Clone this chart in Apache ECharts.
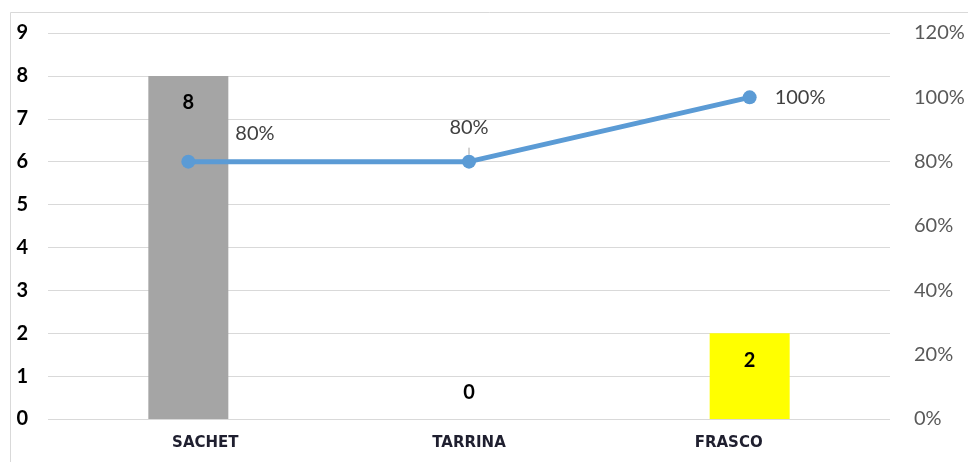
<!DOCTYPE html>
<html>
<head>
<meta charset="utf-8">
<script src="https://cdn.jsdelivr.net/npm/echarts@6/dist/echarts.min.js"></script>
<style>
  html, body { margin: 0; padding: 0; background: #fff; }
  #chart { width: 968px; height: 462px; }
</style>
</head>
<body>
<div id="chart"></div>
<script>
// datos
const categorias = ["SACHET", "TARRINA", "FRASCO"];
const cantidades = [8, 0, 2];
const porcentajes = [0.8, 0.8, 1.0];
const coloresBarras = ["#A5A5A5", "#A5A5A5", "#FFFF00"];

const fuente = "Lato";

// en el original las etiquetas no quedan centradas bajo la barra
const paddingEtiquetas = [[0, 0, 0, 34], [0, 0, 0, 0], [0, 42, 0, 0]];

const chart = echarts.init(document.getElementById("chart"));

chart.setOption({
  backgroundColor: "#fff",
  animation: false,
  textStyle: { fontFamily: fuente },

  // marco del area del grafico
  graphic: [
    {
      type: "rect",
      shape: { x: 10.5, y: 12.5, width: 1000, height: 500 },
      style: { fill: "none", stroke: "#d9d9d9", lineWidth: 1 },
      silent: true,
    },
  ],

  grid: {
    top: 33,
    left: 48,
    right: 78,
    bottom: 43,
  },

  xAxis: {
    type: "category",
    data: categorias.map((c, i) => ({
      value: c,
      textStyle: { padding: paddingEtiquetas[i] },
    })),
    axisLine: { show: false },
    axisTick: { show: false },
    axisLabel: {
      color: "#1f1f2f",
      fontWeight: "bold",
      fontSize: 15,
      margin: 17,
      fontFamily: "DejaVu Sans",
    },
  },

  yAxis: [
    {
      type: "value",
      min: 0,
      max: 9,
      interval: 1,
      axisLine: { show: false },
      axisTick: { show: false },
      axisLabel: {
        color: "#000",
        fontWeight: "bold",
        fontSize: 20,
        margin: 20,
        fontFamily: fuente,
      },
      splitLine: { lineStyle: { color: "#d9d9d9", width: 1 } },
    },
    {
      type: "value",
      min: 0,
      max: 1.2,
      interval: 0.2,
      position: "right",
      axisLine: { show: false },
      axisTick: { show: false },
      splitLine: { show: false },
      axisLabel: {
        color: "#595959",
        fontSize: 20,
        margin: 24,
        fontFamily: fuente,
        formatter: (v) => Math.round(v * 100) + "%",
      },
    },
  ],

  series: [
    {
      name: "Cantidad",
      type: "bar",
      barWidth: 80,
      data: cantidades.map((v, i) => ({
        value: v,
        itemStyle: { color: coloresBarras[i] },
        label: v === 0 ? { position: "top", distance: 16 } : {},
      })),
      label: {
        show: true,
        position: "insideTop",
        distance: 17,
        color: "#000",
        fontWeight: "bold",
        fontSize: 20,
        fontFamily: fuente,
      },
    },
    {
      name: "Porcentaje",
      type: "line",
      yAxisIndex: 1,
      symbol: "circle",
      symbolSize: 14,
      itemStyle: { color: "#5B9BD5" },
      lineStyle: { color: "#5B9BD5", width: 5 },
      data: porcentajes.map((v, i) => {
        const d = { value: v };
        if (i === 0) d.label = { position: "right", distance: 40, offset: [0, -28] };
        if (i === 1) {
          d.label = { position: "top", distance: 17 };
          d.labelLine = { show: true, lineStyle: { color: "#a6a6a6", width: 1 } };
        }
        if (i === 2) d.label = { position: "right", distance: 18 };
        return d;
      }),
      label: {
        show: true,
        color: "#404040",
        fontSize: 20,
        fontFamily: fuente,
        formatter: (p) => Math.round(p.value * 100) + "%",
      },
      z: 5,
    },
  ],
});

window.addEventListener("resize", chart.resize);
</script>
</body>
</html>
